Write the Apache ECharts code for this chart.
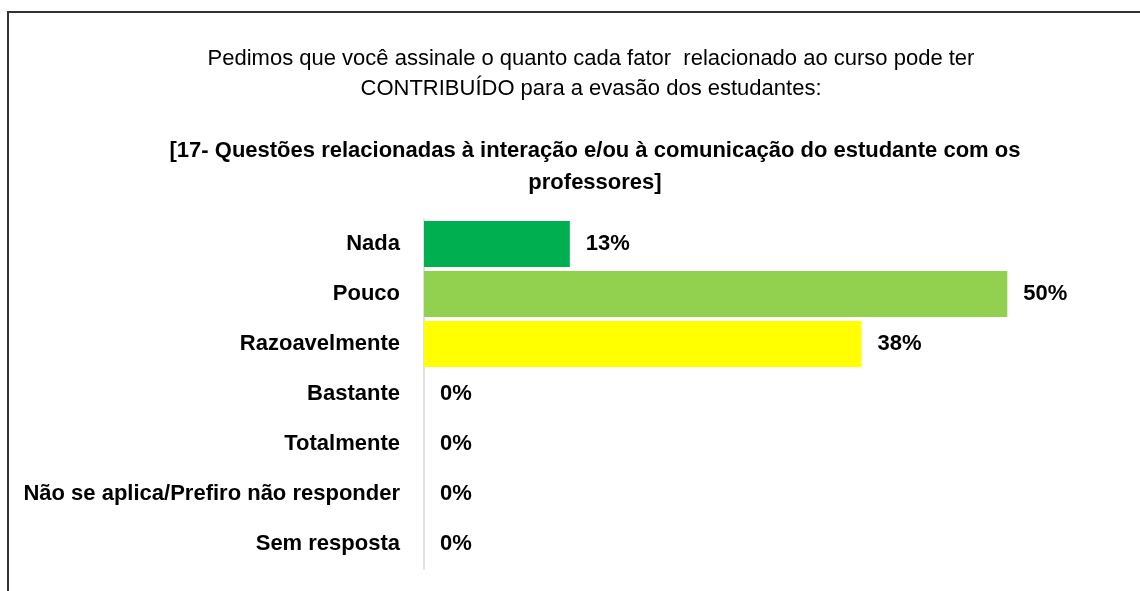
<!DOCTYPE html>
<html>
<head>
<meta charset="utf-8">
<script src="https://cdn.jsdelivr.net/npm/echarts@6/dist/echarts.min.js"></script>
<style>
  html, body { margin: 0; padding: 0; background: #fff; }
  #chart { width: 1140px; height: 591px; }
  /* moldura: só borda superior e esquerda */
  .frame {
    position: absolute; left: 7px; top: 11px; width: 1140px; height: 600px;
    border-top: 2px solid #333; border-left: 2px solid #333;
    pointer-events: none;
  }
</style>
</head>
<body>
<div id="chart"></div>
<div class="frame"></div>
<script>
// categorias e valores (%)
const categorias = ['Nada', 'Pouco', 'Razoavelmente', 'Bastante', 'Totalmente', 'Não se aplica/Prefiro não responder', 'Sem resposta'];
const valores = [12.5, 50, 37.5, 0, 0, 0, 0];
const cores = ['#00B050', '#92D050', '#FFFF00', '#FFC000', '#FF0000', '#A6A6A6', '#7F7F7F'];

const FONTE = '"Liberation Sans Narrow", "Arial Narrow", "Liberation Sans", sans-serif';

const myChart = echarts.init(document.getElementById('chart'));

const options = {
  animation: false,
  title: [
    {
      text: 'Pedimos que você assinale o quanto cada fator  relacionado ao curso pode ter\nCONTRIBUÍDO para a evasão dos estudantes:',
      left: 586,
      top: 39,
      textAlign: 'center',
      textStyle: {
        fontFamily: FONTE,
        fontWeight: 'normal',
        fontSize: 22,
        lineHeight: 30,
        color: '#000'
      }
    },
    {
      text: '[17- Questões relacionadas à interação e/ou à comunicação do estudante com os\nprofessores]',
      left: 590,
      top: 130,
      textAlign: 'center',
      textStyle: {
        fontFamily: FONTE,
        fontWeight: 'bold',
        fontSize: 22,
        lineHeight: 32,
        color: '#000'
      }
    }
  ],
  grid: {
    left: 424,
    right: 16,
    top: 219,
    bottom: 22,
    containLabel: false,
    outerBoundsMode: 'none'
  },
  xAxis: {
    type: 'value',
    min: 0,
    max: 60,
    show: false
  },
  yAxis: {
    type: 'category',
    inverse: true,
    data: categorias,
    axisLine: {
      show: true,
      lineStyle: { color: '#D9D9D9', width: 1.5 }
    },
    axisTick: { show: false },
    axisLabel: {
      margin: 24,
      fontFamily: FONTE,
      fontWeight: 'bold',
      fontSize: 22,
      color: '#000'
    }
  },
  series: [{
    type: 'bar',
    barWidth: 46,
    data: valores.map((v, i) => ({ value: v, itemStyle: { color: cores[i] } })),
    label: {
      show: true,
      position: 'right',
      distance: 16,
      fontFamily: FONTE,
      fontWeight: 'bold',
      fontSize: 22,
      color: '#000',
      formatter: p => Math.round(p.value) + '%'
    }
  }]
};

myChart.setOption(options);
</script>
</body>
</html>
